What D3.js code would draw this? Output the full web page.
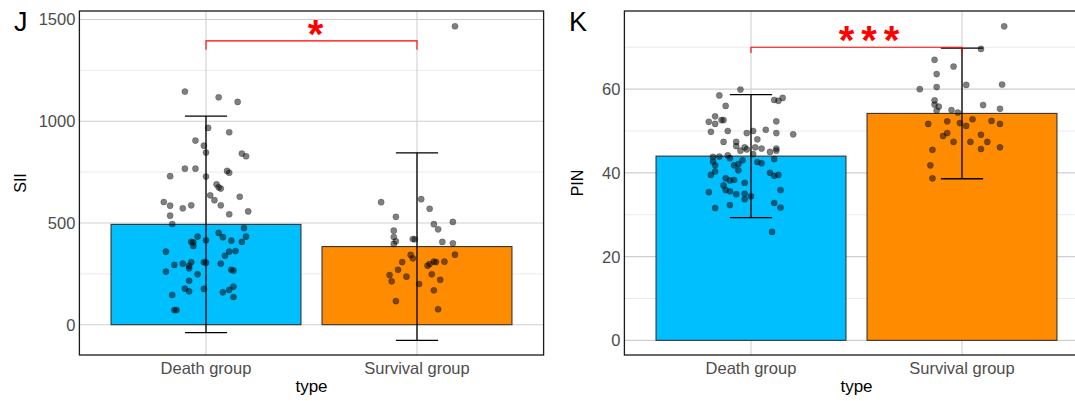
<!DOCTYPE html>
<html>
<head>
<meta charset="utf-8">
<script src="https://cdn.jsdelivr.net/npm/d3@7"></script>
<style>
  body { margin: 0; background: white; }
  text { font-family: "Liberation Sans", Arial, sans-serif; }
</style>
</head>
<body>
<div id="container"></div>
<script>
// categories
let groups = ["Death group", "Survival group"];
let barColors = ["#00BFFF", "#FF8C00"];

// SII panel (J): mean and sd per group
let siiMean = [493, 384];
let siiSd = [532, 461];
// points: value and jitter (in category units)
let siiDeath = [1146, 1118, 1095, 967, 946, 905, 880, 846, 841, 828, 767, 767, 756, 747, 730, 728, 690, 669, 675, 629,
  636, 612, 603, 585, 572, 587, 587, 557, 536, 543, 495, 475, 451, 430, 433, 433, 415, 407, 405, 387,
  413, 407, 359, 359, 362, 339, 294, 300, 307, 289, 277, 307, 305, 300, 270, 266, 261, 248, 216, 177,
  164, 176, 187, 171, 159, 136, 146, 72, 72];
let siiDeathJit = [-0.10, 0.06, 0.15, 0.01, 0.11, -0.05, -0.01, 0.00, 0.17, 0.19, -0.10, -0.05, 0.10, 0.11, -0.17, 0.00, 0.05, 0.07, 0.06, 0.16,
  0.02, 0.04, -0.20, -0.17, -0.11, -0.07, 0.07, 0.20, -0.17, 0.11, -0.16, 0.18, 0.06, 0.08, -0.04, 0.19, 0.00, -0.07, -0.06, -0.06,
  0.12, 0.17, -0.19, 0.11, 0.14, 0.09, -0.15, -0.11, -0.07, -0.08, -0.08, -0.01, 0.00, 0.07, 0.12, 0.13, -0.19, -0.04, -0.08, -0.10,
  -0.08, -0.01, 0.13, 0.11, 0.08, 0.13, -0.16, -0.15, -0.14];
let siiSurv = [1467, 602, 617, 570, 530, 505, 494, 469, 462, 431, 410, 397, 421, 420, 407, 400, 344, 343, 326, 308,
  310, 308, 310, 298, 290, 270, 244, 236, 248, 213, 221, 200, 169, 116, 76];
let siiSurvJit = [0.18, -0.17, 0.02, 0.06, -0.10, 0.17, 0.08, 0.10, -0.11, -0.11, -0.10, -0.11, -0.02, -0.01, 0.12, 0.17, 0.18, -0.03, -0.02, -0.07,
  0.08, 0.09, 0.13, 0.06, 0.05, -0.09, -0.13, -0.05, 0.07, -0.12, 0.11, 0.01, 0.08, -0.10, 0.10];
let siiTicks = [0, 500, 1000, 1500];
let siiMinor = [250, 750, 1250];

// PIN panel (K)
let pinMean = [44.0, 54.2];
let pinSd = [14.7, 15.6];
let pinDeath = [59.9, 58.5, 57.4, 57.2, 57.9, 56.0, 53.5, 52.2, 52.6, 52.6, 51.7, 52.3, 49.8, 50.0, 49.5, 50.0, 50.3, 49.5, 49.2, 48.0,
  47.4, 47.4, 46.4, 46.1, 45.3, 45.6, 46.1, 45.8, 45.0, 45.8, 45.3, 44.5, 43.8, 43.9, 44.2, 43.5, 43.0, 42.6, 42.3, 43.3,
  42.7, 41.8, 41.8, 42.1, 40.3, 40.6, 39.5, 38.7, 38.2, 38.3, 40.0, 39.3, 39.5, 37.6, 37.0, 35.9, 35.6, 35.4, 34.9, 35.0,
  34.4, 33.7, 35.9, 32.8, 31.7, 32.3, 31.6, 25.9];
let pinDeathJit = [-0.05, -0.15, 0.11, 0.13, 0.15, -0.12, -0.17, -0.20, -0.14, -0.13, -0.17, 0.12, -0.19, -0.11, -0.02, 0.01, 0.07, 0.12, 0.20, 0.03,
  -0.13, -0.07, -0.07, -0.03, -0.05, -0.02, 0.02, 0.05, 0.09, 0.12, 0.12, 0.01, -0.18, -0.15, -0.11, -0.10, -0.04, 0.03, 0.05, 0.11,
  -0.18, -0.17, -0.08, -0.06, -0.17, -0.06, -0.19, -0.12, -0.10, -0.08, 0.09, 0.11, 0.13, -0.03, -0.13, -0.12, -0.10, -0.20, -0.07, -0.03,
  0.00, -0.03, 0.14, 0.11, 0.14, -0.10, -0.17, 0.10];
let pinSurv = [75.0, 69.6, 67.0, 65.4, 63.6, 60.0, 60.5, 61.0, 61.1, 57.3, 56.3, 55.8, 56.2, 54.9, 55.0, 54.4, 55.3, 51.7, 52.3, 51.9,
  51.2, 52.8, 52.4, 51.7, 48.8, 49.5, 49.1, 47.4, 47.4, 47.4, 45.5, 45.7, 46.1, 41.8, 38.7];
let pinSurvJit = [0.20, 0.09, -0.13, -0.04, -0.12, -0.20, -0.12, 0.02, 0.19, -0.13, -0.13, -0.11, 0.10, -0.12, -0.05, -0.02, 0.18, -0.16, -0.07, -0.01,
  0.02, 0.05, 0.14, 0.18, -0.09, -0.07, 0.09, -0.04, 0.04, 0.12, -0.14, 0.09, 0.18, -0.15, -0.14];
let pinTicks = [0, 20, 40, 60];
let pinMinor = [10, 30, 50, 70];

let w = 1075;
let h = 401;

let viz = d3.select("#container")
  .append("svg")
  .attr("width", w)
  .attr("height", h)
  .style("background-color", "white");

function drawPanel(p) {
  let g = viz.append("g");
  let top = 11, bottom = 355;

  let xScale = d3.scalePoint().domain(groups).range([p.left, p.right]).padding(0.6);
  let step = xScale.step();
  let yScale = d3.scaleLinear().domain(p.yDomain).range([bottom, top]);

  // minor gridlines
  g.selectAll(".minor").data(p.minor).enter().append("line")
    .attr("x1", p.left).attr("x2", p.right)
    .attr("y1", d => yScale(d)).attr("y2", d => yScale(d))
    .attr("stroke", "#e6e6e6").attr("stroke-width", 0.8);
  // major gridlines
  g.selectAll(".major").data(p.ticks).enter().append("line")
    .attr("x1", p.left).attr("x2", p.right)
    .attr("y1", d => yScale(d)).attr("y2", d => yScale(d))
    .attr("stroke", "#cfcfcf").attr("stroke-width", 1.1);
  g.selectAll(".vmajor").data(groups).enter().append("line")
    .attr("x1", d => xScale(d)).attr("x2", d => xScale(d))
    .attr("y1", top).attr("y2", bottom)
    .attr("stroke", "#cfcfcf").attr("stroke-width", 1.1);

  // bars
  let barW = step * 0.9;
  g.selectAll(".bar").data(groups).enter().append("rect")
    .attr("x", d => xScale(d) - barW / 2)
    .attr("width", barW)
    .attr("y", (d, i) => yScale(p.mean[i]))
    .attr("height", (d, i) => yScale(0) - yScale(p.mean[i]))
    .attr("fill", (d, i) => barColors[i])
    .attr("stroke", "#333333").attr("stroke-width", 1.1);

  // error bars
  let capW = step * 0.2;
  groups.forEach(function (d, i) {
    let cx = xScale(d);
    let lo = yScale(p.mean[i] - p.sd[i]);
    let hi = yScale(p.mean[i] + p.sd[i]);
    g.append("line").attr("x1", cx).attr("x2", cx).attr("y1", lo).attr("y2", hi)
      .attr("stroke", "black").attr("stroke-width", 1.3);
    [lo, hi].forEach(function (yy) {
      g.append("line").attr("x1", cx - capW / 2).attr("x2", cx + capW / 2).attr("y1", yy).attr("y2", yy)
        .attr("stroke", "black").attr("stroke-width", 1.3);
    });
  });

  // jittered points
  p.points.forEach(function (set, i) {
    let cx = xScale(groups[i]);
    g.selectAll(".pt" + i).data(set.values).enter().append("circle")
      .attr("cx", (d, j) => cx + set.jitter[j] * step)
      .attr("cy", d => yScale(d))
      .attr("r", 3.1)
      .attr("fill", "black")
      .attr("fill-opacity", 0.5)
      .attr("stroke", "black")
      .attr("stroke-opacity", 0.5)
      .attr("stroke-width", 0.4);
  });

  // significance bracket
  let x1 = xScale(groups[0]), x2 = xScale(groups[1]);
  let by = yScale(p.bracket[0]), bt = yScale(p.bracket[1]);
  g.append("path")
    .attr("d", "M" + x1 + "," + bt + "V" + by + "H" + x2 + "V" + bt)
    .attr("fill", "none").attr("stroke", "red").attr("stroke-width", 1.1);
  g.append("text")
    .attr("x", (x1 + x2) / 2 + p.starDx)
    .attr("y", by + 7)
    .attr("text-anchor", "middle")
    .attr("font-size", "40px")
    .attr("font-weight", "bold")
    .attr("letter-spacing", p.starSpacing)
    .attr("fill", "red")
    .text(p.stars);

  // panel border
  g.append("rect")
    .attr("x", p.left).attr("y", top)
    .attr("width", p.right - p.left).attr("height", bottom - top)
    .attr("fill", "none").attr("stroke", "#1a1a1a").attr("stroke-width", 1.3);

  // y tick labels
  g.selectAll(".ylab").data(p.ticks).enter().append("text")
    .attr("x", p.left - 4)
    .attr("y", d => yScale(d))
    .attr("dy", "0.36em")
    .attr("text-anchor", "end")
    .attr("font-size", "16.5px")
    .attr("fill", "#4d4d4d")
    .text(d => d);

  // x tick labels
  g.selectAll(".xlab").data(groups).enter().append("text")
    .attr("x", d => xScale(d))
    .attr("y", 374)
    .attr("text-anchor", "middle")
    .attr("font-size", "16.5px")
    .attr("fill", "#4d4d4d")
    .text(d => d);

  // axis titles
  g.append("text")
    .attr("x", (p.left + p.left + 2.2 * step) / 2)
    .attr("y", 392)
    .attr("text-anchor", "middle")
    .attr("font-size", "17px")
    .attr("fill", "black")
    .text("type");
  g.append("text")
    .attr("transform", "translate(" + p.titleX + "," + ((top + bottom) / 2) + ") rotate(-90)")
    .attr("text-anchor", "middle")
    .attr("font-size", "16px")
    .attr("fill", "black")
    .text(p.title);

  // panel letter
  g.append("text")
    .attr("x", p.letterX)
    .attr("y", 31)
    .attr("font-size", "27px")
    .attr("fill", "black")
    .text(p.letter);
}

drawPanel({
  left: 79.4, right: 543.6,
  yDomain: [-149, 1542],
  ticks: siiTicks, minor: siiMinor,
  mean: siiMean, sd: siiSd,
  points: [{ values: siiDeath, jitter: siiDeathJit }, { values: siiSurv, jitter: siiSurvJit }],
  bracket: [1395, 1352],
  stars: "*", starDx: 4, starSpacing: "0px",
  title: "SII", titleX: 26,
  letter: "J", letterX: 14
});

drawPanel({
  left: 624.4, right: 1088.6,
  yDomain: [-3.5, 78.66],
  ticks: pinTicks, minor: pinMinor,
  mean: pinMean, sd: pinSd,
  points: [{ values: pinDeath, jitter: pinDeathJit }, { values: pinSurv, jitter: pinSurvJit }],
  bracket: [70.0, 68.6],
  stars: "***", starDx: 16, starSpacing: "7px",
  title: "PIN", titleX: 583,
  letter: "K", letterX: 569
});
</script>
</body>
</html>
